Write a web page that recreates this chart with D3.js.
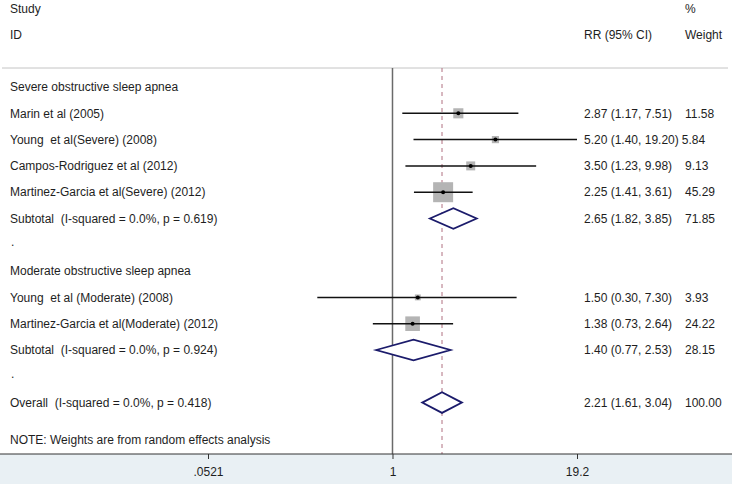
<!DOCTYPE html>
<html><head><meta charset="utf-8">
<script src="https://cdn.jsdelivr.net/npm/d3@7"></script>
<style>body{margin:0;background:#fff}svg{display:block}text{font-family:"Liberation Sans",Arial,sans-serif;font-size:12px;fill:#1e1e1e;white-space:pre}</style>
</head><body><svg id="c" width="732" height="484"></svg>
<script>
const groupNames = ["Severe obstructive sleep apnea", "Moderate obstructive sleep apnea"];
const studyNames = ["Marin et al (2005)", "Young  et al(Severe) (2008)", "Campos-Rodriguez et al (2012)", "Martinez-Garcia et al(Severe) (2012)", "Young  et al (Moderate) (2008)", "Martinez-Garcia et al(Moderate) (2012)"];
const studyGroup = [0, 0, 0, 0, 1, 1];
const studyRR = [2.87, 5.20, 3.50, 2.25, 1.50, 1.38];
const studyLo = [1.17, 1.40, 1.23, 1.41, 0.30, 0.73];
const studyHi = [7.51, 19.20, 9.98, 3.61, 7.30, 2.64];
const studyWeight = [11.58, 5.84, 9.13, 45.29, 3.93, 24.22];
const subtotalLabels = ["Subtotal  (I-squared = 0.0%, p = 0.619)", "Subtotal  (I-squared = 0.0%, p = 0.924)"];
const subtotalRR = [2.65, 1.40];
const subtotalLo = [1.82, 0.77];
const subtotalHi = [3.85, 2.53];
const subtotalWeight = [71.85, 28.15];
const overallLabel = "Overall  (I-squared = 0.0%, p = 0.418)";
const overallRR = 2.21, overallLo = 1.61, overallHi = 3.04, overallWeight = 100.00;
const noteText = "NOTE: Weights are from random effects analysis";
const tickValues = [0.0521, 1, 19.2];
const tickLabels = [".0521", "1", "19.2"];

// Build row table
const rows = [];
groupNames.forEach((g, gi) => {
  rows.push({type: "header", label: g});
  studyNames.forEach((s, i) => {
    if (studyGroup[i] === gi) rows.push({type: "study", label: s, rr: studyRR[i], lo: studyLo[i], hi: studyHi[i], w: studyWeight[i]});
  });
  rows.push({type: "sub", label: subtotalLabels[gi], rr: subtotalRR[gi], lo: subtotalLo[gi], hi: subtotalHi[gi], w: subtotalWeight[gi]});
  rows.push({type: "dot", label: "."});
});
rows.push({type: "sub", label: overallLabel, rr: overallRR, lo: overallLo, hi: overallHi, w: overallWeight});

const svg = d3.select("#c");
const W = 732, H = 484;
const x = d3.scaleLog().domain([0.0521, 19.2]).range([208, 577]);
const y = d3.scaleLinear().domain([0, 12]).range([87, 402.6]);
const sq = d3.scaleSqrt().domain([0, 100]).range([0, 29.7]);
const axisY = 454, topY = 68;
const fmt = d3.format(".2f");

// axis background
svg.append("rect").attr("x", 0).attr("y", axisY).attr("width", W).attr("height", H - axisY).attr("fill", "#e9f0f4");

// headers
const colCI = 584, colW = 685;
svg.append("text").attr("x", 10).attr("y", 9).attr("dy", "0.35em").text("Study");
svg.append("text").attr("x", 10).attr("y", 35).attr("dy", "0.35em").text("ID");
svg.append("text").attr("x", colW).attr("y", 9).attr("dy", "0.35em").text("%");
svg.append("text").attr("x", colCI).attr("y", 35).attr("dy", "0.35em").text("RR (95% CI)");
svg.append("text").attr("x", colW).attr("y", 35).attr("dy", "0.35em").text("Weight");
svg.append("line").attr("x1", 2).attr("x2", 728).attr("y1", topY).attr("y2", topY).attr("stroke", "#c4c4c4").attr("stroke-width", 1);

// reference lines
svg.append("line").attr("x1", x(1)).attr("x2", x(1)).attr("y1", topY).attr("y2", axisY).attr("stroke", "#6a6a6a").attr("stroke-width", 1.5);
svg.append("line").attr("x1", x(overallRR)).attr("x2", x(overallRR)).attr("y1", topY).attr("y2", axisY)
  .attr("stroke", "#b07080").attr("stroke-width", 1).attr("stroke-dasharray", "4,4");

rows.forEach((r, i) => {
  const yy = y(i);
  svg.append("text").attr("x", r.type === "dot" ? 11 : 10).attr("y", r.type === "dot" ? yy - 3 : yy).attr("dy", "0.35em").text(r.label);
  if (r.type === "study") {
    const s = sq(r.w);
    svg.append("rect").attr("x", x(r.rr) - s / 2).attr("y", yy - s / 2).attr("width", s).attr("height", s).attr("fill", "#b4b4b4");
    svg.append("line").attr("x1", x(r.lo)).attr("x2", x(r.hi)).attr("y1", yy).attr("y2", yy).attr("stroke", "#111").attr("stroke-width", 1.5);
    svg.append("circle").attr("cx", x(r.rr)).attr("cy", yy).attr("r", 2).attr("fill", "#000");
  }
  if (r.type === "sub") {
    const h = 10.3;
    svg.append("path").attr("d", `M${x(r.lo)},${yy}L${x(r.rr)},${yy - h}L${x(r.hi)},${yy}L${x(r.rr)},${yy + h}Z`)
      .attr("fill", "#fff").attr("stroke", "#1b1b6b").attr("stroke-width", 1.8);
  }
  if (r.type === "study" || r.type === "sub") {
    const t = svg.append("text").attr("x", colCI).attr("y", yy).attr("dy", "0.35em")
      .text(`${fmt(r.rr)} (${fmt(r.lo)}, ${fmt(r.hi)})`);
    const end = colCI + t.node().getComputedTextLength();
    const wx = end > colW - 12 ? end + 3 : colW;
    svg.append("text").attr("x", wx).attr("y", yy).attr("dy", "0.35em").text(fmt(r.w));
  }
});

svg.append("text").attr("x", 10).attr("y", 440).attr("dy", "0.35em").text(noteText);

// axis
const axis = d3.axisBottom(x).tickValues(tickValues).tickFormat((d, i) => tickLabels[i]).tickSize(5).tickSizeOuter(0);
const g = svg.append("g").attr("transform", `translate(0,${axisY})`).call(axis);
g.select(".domain").remove();
g.selectAll(".tick line").attr("stroke", "#333");
g.selectAll(".tick text").attr("dy", null).attr("y", 19).attr("dominant-baseline", "middle")
  .style("font-family", '"Liberation Sans",Arial,sans-serif').style("font-size", "12px").attr("fill", "#1e1e1e");
svg.append("line").attr("x1", 0).attr("x2", W).attr("y1", axisY).attr("y2", axisY).attr("stroke", "#333").attr("stroke-width", 1);
</script></body></html>
